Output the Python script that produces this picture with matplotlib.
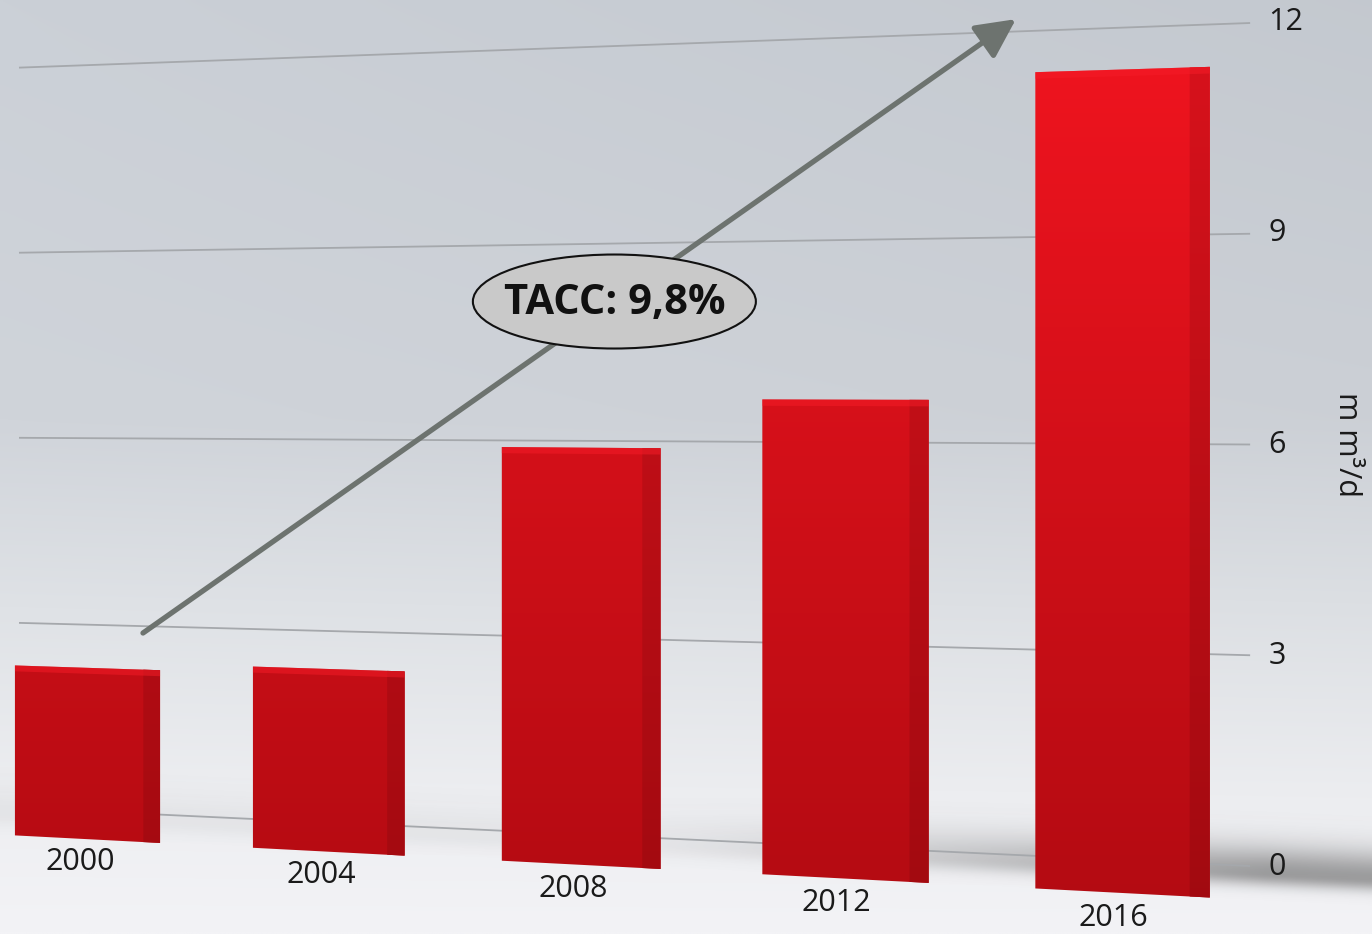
import numpy as np
import matplotlib
matplotlib.use("Agg")
import matplotlib.pyplot as plt
import matplotlib.transforms as mtransforms
from matplotlib.patches import Polygon, Ellipse
from matplotlib.colors import to_rgb

years = ["2000", "2004", "2008", "2012", "2016"]
capacity = [2.6, 2.7, 6.0, 6.7, 11.2]  # m m3/d
y_ticks = [0, 3, 6, 9, 12]
cagr_text = "TACC: 9,8%"
unit_label = "m m³/d"

W, H = 1372, 934

# chart plane seen in perspective: category index -> pixel column,
# baseline and pixels per unit both drift with the column
COL_A, COL_B, COL_C = 234.05, 87.0, -0.022
BAR_W, SIDE_W = 0.615, 0.07


def column(u):
    return (COL_A * u + COL_B) / (1.0 + COL_C * u)


def floor_y(x):
    return 808.0 + 58.0 * (x - 20.0) / 1230.0


def unit_px(x):
    return 61.7 + 8.55 * (x - 20.0) / 1230.0


class Perspective(mtransforms.Transform):
    """(category, value) -> pixel position on the slanted chart plane."""
    input_dims = 2
    output_dims = 2
    is_separable = False

    def __init__(self, drop=(0.0, 0.0), zoom=1.0):
        super().__init__()
        self.drop = drop
        self.zoom = zoom

    def transform_non_affine(self, values):
        values = np.asarray(values, dtype=float).reshape(-1, 2)
        x = column(values[:, 0])
        d0, d1 = self.drop
        d = d0 + (d1 - d0) * (x - 90.0) / 1030.0
        y = floor_y(x) + d - values[:, 1] * unit_px(x) * self.zoom
        return np.column_stack([x, y])


plt.rcParams["font.family"] = ["Open Sans", "DejaVu Sans"]
TXT = "#1a1a1a"

fig = plt.figure(figsize=(W / 100, H / 100), dpi=100)
ax = fig.add_axes([0, 0, 1, 1])
ax.set_xlim(0, W)
ax.set_ylim(H, 0)
ax.autoscale(False)
ax.axis("off")

# backdrop: cool grey at the top fading to near white
gy = np.linspace(0, 1, 300)
gx = np.linspace(0, 1, 200)
stops_y = [0.0, 0.45, 0.65, 0.85, 1.0]
stops_c = np.array([(203, 208, 215), (208, 212, 218), (223, 226, 230),
                    (237, 238, 241), (243, 243, 246)]) / 255
bg = np.stack([np.interp(gy, stops_y, stops_c[:, k]) for k in range(3)], axis=-1)
bg = bg[:, None, :] * (1 - 0.035 * gx[None, :, None] * (1 - gy[:, None, None]))
ax.imshow(bg, extent=(0, W, H, 0), aspect="auto", zorder=0, interpolation="bilinear")

# floor shadow along the base line, heavier on the right
xs = np.linspace(0, W, 400)
ys = np.linspace(0, H, 400)
XX, YY = np.meshgrid(xs, ys)
yc = floor_y(XX) + 8
sig = np.where(YY < yc, 28.0, 12.0)
amp = 0.07 + 0.5 * np.clip((XX - 650) / 620, 0, 1) ** 1.3
shadow = np.zeros((400, 400, 4))
shadow[..., :3] = 0.36
shadow[..., 3] = amp * np.exp(-((YY - yc) / sig) ** 2)
ax.imshow(shadow, extent=(0, W, H, 0), aspect="auto", zorder=1, interpolation="bilinear")

grid_plane = Perspective()
grid_tr = grid_plane + ax.transData
bar_tr = Perspective(drop=(28, 33), zoom=1.06) + ax.transData

# horizontal grid and value labels on the right
for t in y_ticks:
    ax.plot([-0.29, 4.447], [t, t], transform=grid_tr, color="#a5a8ac", lw=1.3,
            zorder=2, solid_capstyle="butt")
    ax.text(4.51, t, str(t), transform=grid_tr, ha="left", va="center",
            fontsize=22, color=TXT, zorder=2)

ax.text(1347, 445, unit_label, rotation=-90, ha="center", va="center",
        fontsize=22, color=TXT)

# red bars with a vertical light ramp, softer right side and bright top rim
top_c = np.array(to_rgb("#f0141f"))
bot_c = np.array(to_rgb("#b40b12"))
ramp = np.linspace(0, 1, 256)[:, None, None]
face_img = top_c + (bot_c - top_c) * ramp
side_img = face_img * 0.9

for i, val in enumerate(capacity):
    left, right = i - BAR_W / 2, i + BAR_W / 2
    edge = right - SIDE_W
    # the face spans the whole bar; the side strip is laid over it
    front = Polygon([(left, 0), (right, 0), (right, val), (left, val)],
                    closed=True, transform=bar_tr, fc="none", ec="none")
    side = Polygon([(edge, 0), (right, 0), (right, val), (edge, val)],
                   closed=True, transform=bar_tr, fc="none", ec="none")
    ax.add_patch(front)
    ax.add_patch(side)
    for z, patch, img in ((3, front, face_img), (3.1, side, side_img)):
        im = ax.imshow(img, extent=(0, W, 900, 40), aspect="auto", zorder=z,
                       interpolation="bilinear")
        im.set_clip_path(patch)
    rim = 0.09
    ax.add_patch(Polygon([(left, val - rim), (right, val - rim), (right, val), (left, val)],
                         closed=True, transform=bar_tr, fc="#f61c28", ec="none",
                         alpha=0.5, zorder=4))
    ax.text(i - 0.03, -0.35, years[i], transform=bar_tr, ha="center", va="center",
            fontsize=22, color=TXT, zorder=4)

# growth arrow with the CAGR badge
arrow_from = (0.236, 2.89)
arrow_to = (3.623, 12.18)
ax.annotate("", xy=arrow_to, xycoords=grid_tr, xytext=arrow_from, textcoords=grid_tr,
            arrowprops=dict(arrowstyle="-|>,head_length=0.4,head_width=0.2",
                            mutation_scale=60, lw=3.8, color="#6d736f",
                            shrinkA=0, shrinkB=0),
            zorder=5)

p0, p1 = grid_plane.transform(np.array([arrow_from, arrow_to]))
cx, cy = p0 + 0.54 * (p1 - p0)
ax.add_patch(Ellipse((cx, cy), 283, 94, fc="#c9c9c9", ec="#111111", lw=1.5, zorder=6))
ax.text(cx, cy + 2, cagr_text, ha="center", va="center", fontsize=30,
        fontweight="bold", color="#111111", zorder=7)

fig.savefig("out.png", dpi=100)
